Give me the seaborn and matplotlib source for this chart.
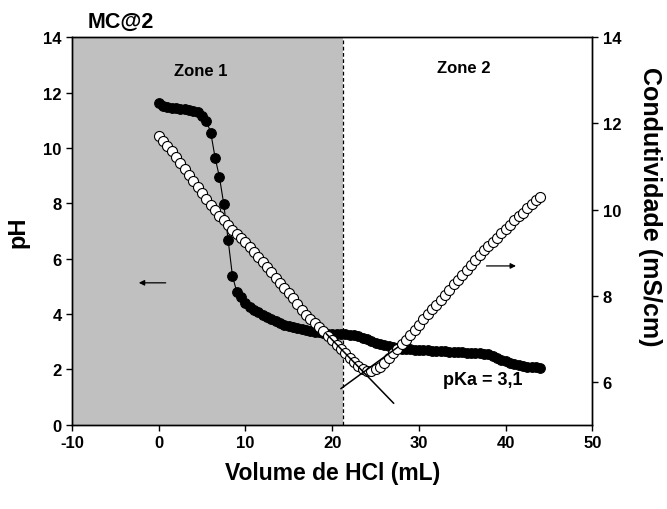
import numpy as np
import pandas as pd
import matplotlib
matplotlib.use("Agg")
import matplotlib.pyplot as plt
import seaborn as sns

# ---- data ----
volume = [0.0, 0.5, 1.0, 1.5, 2.0, 2.5, 3.0, 3.5, 4.0, 4.5, 5.0, 5.5, 6.0, 6.5, 7.0, 7.5,
          8.0, 8.5, 9.0, 9.5, 10.0, 10.5, 11.0, 11.5, 12.0, 12.5, 13.0, 13.5, 14.0, 14.5,
          15.0, 15.5, 16.0, 16.5, 17.0, 17.5, 18.0, 18.5, 19.0, 19.5, 20.0, 20.5, 21.0,
          21.5, 22.0, 22.5, 23.0, 23.5, 24.0, 24.5, 25.0, 25.5, 26.0, 26.5, 27.0, 27.5,
          28.0, 28.5, 29.0, 29.5, 30.0, 30.5, 31.0, 31.5, 32.0, 32.5, 33.0, 33.5, 34.0,
          34.5, 35.0, 35.5, 36.0, 36.5, 37.0, 37.5, 38.0, 38.5, 39.0, 39.5, 40.0, 40.5,
          41.0, 41.5, 42.0, 42.5, 43.0, 43.5, 44.0]

ph = [11.62, 11.52, 11.48, 11.46, 11.44, 11.42, 11.41, 11.38, 11.35, 11.30, 11.15, 10.98,
      10.55, 9.65, 8.95, 7.97, 6.68, 5.38, 4.80, 4.60, 4.40, 4.25, 4.15, 4.06, 3.98, 3.90,
      3.82, 3.75, 3.68, 3.62, 3.57, 3.53, 3.49, 3.46, 3.43, 3.40, 3.37, 3.34, 3.30, 3.28,
      3.27, 3.27, 3.27, 3.27, 3.26, 3.24, 3.20, 3.15, 3.09, 3.03, 2.97, 2.92, 2.88, 2.85,
      2.82, 2.78, 2.75, 2.74, 2.73, 2.72, 2.71, 2.70, 2.69, 2.68, 2.67, 2.66, 2.65, 2.64,
      2.63, 2.62, 2.62, 2.61, 2.60, 2.59, 2.58, 2.57, 2.55, 2.50, 2.43, 2.36, 2.30, 2.24,
      2.19, 2.15, 2.12, 2.10, 2.09, 2.08, 2.07]

conductivity = [11.71, 11.60, 11.48, 11.35, 11.22, 11.08, 10.94, 10.80, 10.66, 10.53, 10.38,
                10.24, 10.10, 9.98, 9.86, 9.75, 9.64, 9.53, 9.43, 9.34, 9.25, 9.14, 9.02,
                8.90, 8.78, 8.66, 8.54, 8.42, 8.30, 8.18, 8.06, 7.94, 7.81, 7.67, 7.56,
                7.46, 7.37, 7.28, 7.17, 7.06, 6.96, 6.86, 6.76, 6.66, 6.56, 6.46, 6.37,
                6.30, 6.26, 6.26, 6.29, 6.35, 6.44, 6.55, 6.66, 6.77, 6.88, 6.98, 7.08,
                7.20, 7.33, 7.45, 7.57, 7.68, 7.79, 7.90, 8.02, 8.14, 8.26, 8.37, 8.48,
                8.60, 8.72, 8.83, 8.94, 9.05, 9.15, 9.25, 9.35, 9.45, 9.55, 9.65, 9.75,
                9.84, 9.93, 10.03, 10.13, 10.22, 10.30]

# tangent lines (volume, conductivity)
tangent1_x = [19.3, 27.1]
tangent1_y = [7.12, 5.50]
tangent2_x = [21.0, 27.6]
tangent2_y = [5.84, 6.81]

zone_boundary = 21.3
x_ticks = [-10, 0, 10, 20, 30, 40, 50]
ph_ticks = [0, 2, 4, 6, 8, 10, 12, 14]
cond_ticks = [6, 8, 10, 12, 14]

df = pd.DataFrame({"volume": volume, "ph": ph, "cond": conductivity})

sns.set_style("ticks")
plt.rcParams["font.family"] = ["Liberation Sans", "DejaVu Sans"]
plt.rcParams["font.weight"] = "bold"
plt.rcParams["axes.labelweight"] = "bold"
plt.rcParams["axes.linewidth"] = 1.0
plt.rcParams["xtick.direction"] = "out"
plt.rcParams["ytick.direction"] = "out"
plt.rcParams["text.color"] = "black"
plt.rcParams["axes.labelcolor"] = "black"
plt.rcParams["xtick.color"] = "black"
plt.rcParams["ytick.color"] = "black"
plt.rcParams["axes.unicode_minus"] = False

fig = plt.figure(figsize=(6.67, 5.10), dpi=100)
ax = fig.add_axes([0.108, 0.165, 0.780, 0.760])

ax.axvspan(-10, zone_boundary, color="#c0c0c0", lw=0, zorder=0)
ax.axvline(zone_boundary, color="black", ls=(0, (3, 2)), lw=0.9, zorder=1)

sns.lineplot(data=df, x="volume", y="ph", ax=ax, color="black", lw=0.8,
             marker="o", markersize=7, markerfacecolor="black",
             markeredgecolor="black", zorder=2)

ax.set_xlim(-10, 50)
ax.set_ylim(0, 14)
ax.set_xticks(x_ticks)
ax.set_yticks(ph_ticks)
ax.tick_params(axis="both", labelsize=12, length=4, width=1, colors="black")
ax.set_xlabel("Volume de HCl (mL)", fontsize=16.5, fontweight="bold", labelpad=8)
ax.set_ylabel("pH", fontsize=17, fontweight="bold", labelpad=10)

ax2 = ax.twinx()
sns.scatterplot(data=df, x="volume", y="cond", ax=ax2, s=52, color="white",
                edgecolor="black", linewidth=0.8, zorder=3)
ax2.plot(tangent1_x, tangent1_y, color="black", lw=1.1, zorder=4)
ax2.plot(tangent2_x, tangent2_y, color="black", lw=1.1, zorder=4)
ax2.set_ylim(5, 14)
ax2.set_yticks(cond_ticks)
ax2.tick_params(axis="y", labelsize=12, length=4, width=1, colors="black")
ax2.set_ylabel("Condutividade (mS/cm)", fontsize=18, fontweight="bold",
               rotation=-90, va="center", ha="center")
ax2.yaxis.set_label_coords(1.11, 0.565)
ax2.set_xlim(-10, 50)

for a in (ax, ax2):
    for s in a.spines.values():
        s.set_visible(True)
        s.set_linewidth(1.0)
        s.set_color("black")

ax.text(4.8, 12.8, "Zone 1", fontsize=12, fontweight="bold", ha="center", va="center")
ax.text(35.2, 12.9, "Zone 2", fontsize=12, fontweight="bold", ha="center", va="center")
ax.text(37.4, 1.62, "pKa = 3,1", fontsize=13, fontweight="bold", ha="center", va="center")

ax.annotate("", xy=(-2.3, 5.13), xytext=(0.8, 5.13),
            arrowprops=dict(arrowstyle="-|>", color="black", lw=0.9,
                            mutation_scale=8, shrinkA=0, shrinkB=0))
ax.annotate("", xy=(41.2, 5.74), xytext=(37.8, 5.74),
            arrowprops=dict(arrowstyle="-|>", color="black", lw=0.9,
                            mutation_scale=8, shrinkA=0, shrinkB=0))

fig.text(0.132, 0.957, "MC@2", fontsize=15.5, fontweight="bold", ha="left", va="center")

fig.savefig("out.png", dpi=100)
